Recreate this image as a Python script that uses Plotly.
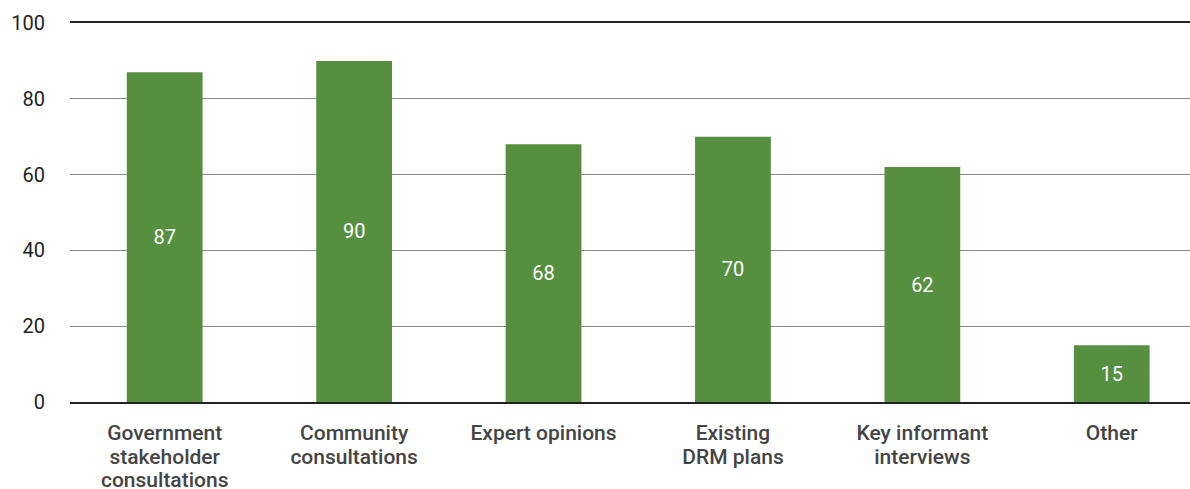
import plotly.graph_objects as go

category_lines = [["Government", "stakeholder", "consultations"], ["Community", "consultations"],
                  ["Expert opinions"], ["Existing", "DRM plans"], ["Key informant", "interviews"], ["Other"]]
values = [87, 90, 68, 70, 62, 15]
yticks = [0, 20, 40, 60, 80, 100]

ticktext = ["<br>".join(f'<span style="font-size:21px">{ln}</span>' for ln in lines)
            for lines in category_lines]

fig = go.Figure(go.Bar(
    x=list(range(len(values))), y=values,
    text=[str(v) for v in values], textposition="inside", insidetextanchor="middle",
    textfont=dict(family="Roboto", size=20, color="white"),
    marker=dict(color="#558f3f", line=dict(width=0)),
    width=0.4,
))

fig.update_layout(
    width=1190, height=489,
    margin=dict(l=70, r=0, t=23, b=87),
    plot_bgcolor="white", paper_bgcolor="white",
    showlegend=False,
    font=dict(family="Roboto", size=18, color="#222"),
)
fig.update_xaxes(
    range=[-0.5, 5.413], tickmode="array", tickvals=list(range(len(values))),
    ticktext=ticktext, showgrid=False, zeroline=False, automargin=False,
    showline=True, linecolor="#222", linewidth=1.5, mirror=True,
    tickfont=dict(family="Roboto", size=18, color="#444", weight=500),
    ticks="", ticklabelstandoff=15,
)
fig.update_yaxes(
    range=[0, 100], tickvals=yticks, automargin=False,
    showgrid=True, gridcolor="#8a8a8a", gridwidth=1.3, zeroline=False,
    tickfont=dict(family="Roboto", size=20, color="#222"),
    ticks="", ticklabelstandoff=24,
)
fig.write_html("out.html")
